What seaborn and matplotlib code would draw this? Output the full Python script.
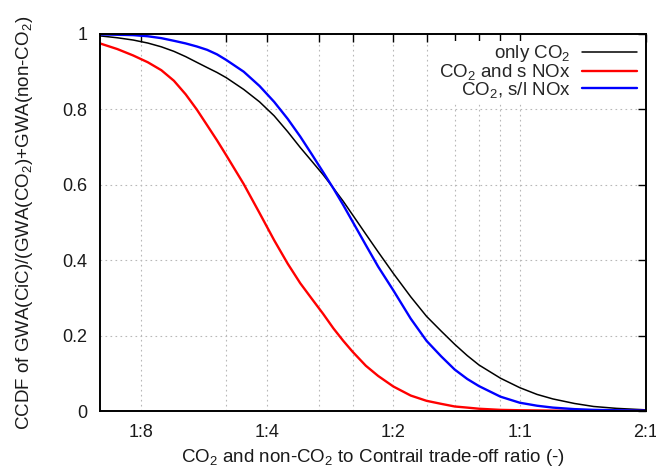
import matplotlib
matplotlib.use("Agg")
import matplotlib.pyplot as plt
import seaborn as sns
import pandas as pd

# ---- data ----
ratio = [0.10, 0.11, 0.12, 0.13, 0.14, 0.15, 0.16, 0.17, 0.18, 0.19, 0.20,
         0.22, 0.24, 0.26, 0.28, 0.30, 0.32, 0.34, 0.36, 0.38, 0.40,
         0.43, 0.46, 0.50, 0.55, 0.60, 0.65, 0.70, 0.75, 0.80, 0.90,
         1.0, 1.1, 1.2, 1.35, 1.5, 1.7, 2.0]
only_co2 = [0.995, 0.990, 0.984, 0.976, 0.966, 0.954, 0.940, 0.925, 0.911, 0.898, 0.884,
            0.853, 0.820, 0.783, 0.741, 0.699, 0.662, 0.627, 0.591, 0.556, 0.520,
            0.469, 0.422, 0.365, 0.303, 0.251, 0.212, 0.177, 0.147, 0.122, 0.087,
            0.062, 0.044, 0.032, 0.020, 0.012, 0.007, 0.003]
co2_s_nox = [0.975, 0.960, 0.943, 0.925, 0.904, 0.876, 0.840, 0.800, 0.758, 0.718, 0.678,
             0.602, 0.525, 0.453, 0.391, 0.339, 0.297, 0.258, 0.219, 0.186, 0.157,
             0.120, 0.093, 0.065, 0.041, 0.027, 0.019, 0.012, 0.009, 0.006, 0.003,
             0.002, 0.0015, 0.001, 0.0007, 0.0005, 0.0003, 0.0002]
co2_sl_nox = [0.999, 0.998, 0.997, 0.994, 0.989, 0.982, 0.975, 0.967, 0.958, 0.946, 0.931,
              0.900, 0.862, 0.820, 0.775, 0.728, 0.680, 0.634, 0.590, 0.546, 0.502,
              0.440, 0.383, 0.320, 0.245, 0.186, 0.145, 0.110, 0.085, 0.066, 0.038,
              0.022, 0.014, 0.009, 0.005, 0.003, 0.002, 0.001]

series_labels = [r"only CO$_2$", r"CO$_2$ and s NOx", r"CO$_2$, s/l NOx"]
series_colors = ["#000000", "#ff0000", "#0000ff"]
series_widths = [1.1, 1.7, 1.7]

xtick_major = [0.125, 0.25, 0.5, 1.0, 2.0]
xtick_labels = ["1:8", "1:4", "1:2", "1:1", "2:1"]
xtick_minor = [0.2, 1 / 3, 0.4, 0.6, 0.7, 0.8, 0.9]
ytick_vals = [0, 0.2, 0.4, 0.6, 0.8, 1]
ytick_labels = ["0", "0.2", "0.4", "0.6", "0.8", "1"]

# ---- style ----
sns.set_style("white")
plt.rcParams["font.family"] = ["Liberation Sans", "DejaVu Sans"]
plt.rcParams["mathtext.default"] = "regular"
plt.rcParams["font.size"] = 13.5

fig = plt.figure(figsize=(6.56, 4.69), dpi=100)
ax = fig.add_axes([100 / 656, (469 - 411) / 469, 546 / 656, 377 / 469])

for vals, lab, col, lw in zip([only_co2, co2_s_nox, co2_sl_nox],
                              series_labels, series_colors, series_widths):
    df = pd.DataFrame({"ratio": ratio, "ccdf": vals})
    sns.lineplot(data=df, x="ratio", y="ccdf", ax=ax, color=col, linewidth=lw,
                 label=lab)

ax.set_xscale("log", base=2)
ax.set_xlim(0.1, 2.0)
ax.set_ylim(0, 1)

ax.set_xticks(xtick_major)
ax.set_xticklabels(xtick_labels)
ax.set_xticks(xtick_minor, minor=True)
ax.set_xticklabels([], minor=True)
ax.set_yticks(ytick_vals)
ax.set_yticklabels(ytick_labels)

ax.tick_params(axis="both", which="both", direction="in", length=5.8, width=1,
               top=True, right=True, color="black", labelsize=13, labelcolor="#1a1a1a")
ax.tick_params(axis="x", which="major", pad=9)
ax.tick_params(axis="y", which="major", pad=9)

ax.grid(True, which="both", axis="x", linestyle=(0, (1.5, 3)), color="#b8b8b8", linewidth=0.8)
ax.grid(True, which="major", axis="y", linestyle=(0, (1.5, 3)), color="#b8b8b8", linewidth=0.8)
ax.set_axisbelow(True)

for sp in ax.spines.values():
    sp.set_color("black")
    sp.set_linewidth(1.4)
    sp.set_visible(True)

ax.set_xlabel(r"CO$_2$ and non-CO$_2$ to Contrail trade-off ratio (-)", fontsize=13.5,
              color="#1a1a1a", labelpad=5)
ax.set_ylabel(r"CCDF of GWA(CiC)/(GWA(CO$_2$)+GWA(non-CO$_2$)", fontsize=13.5,
              color="#1a1a1a", labelpad=20)

leg = ax.legend(loc="upper right", markerfirst=False, frameon=True, fancybox=False,
                edgecolor="none", facecolor="white", framealpha=1.0, fontsize=13.5,
                handlelength=2.9, handletextpad=0.6, labelspacing=-0.12,
                borderpad=0.15, borderaxespad=0.35)
for h, lw in zip(leg.get_lines(), series_widths):
    h.set_linewidth(lw)

fig.savefig("out.png", dpi=100)
